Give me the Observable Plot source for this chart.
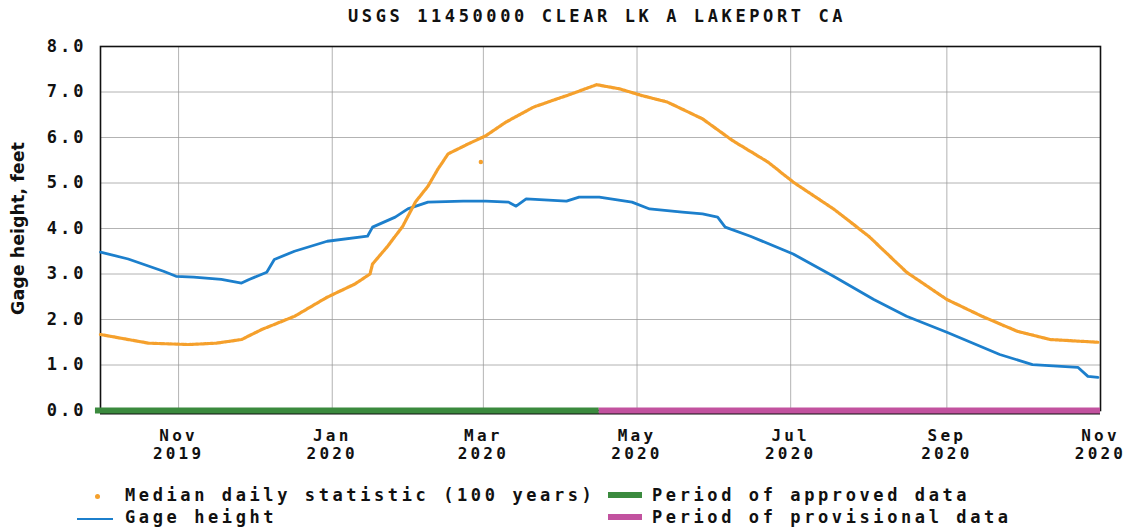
<!DOCTYPE html>
<html>
<head>
<meta charset="utf-8">
<script src="https://cdn.jsdelivr.net/npm/d3@7"></script>
<script src="https://cdn.jsdelivr.net/npm/@observablehq/plot@0.6"></script>
<style>
  html, body { margin: 0; padding: 0; background: #fff; }
  #wrap { position: relative; width: 1125px; height: 527px; overflow: hidden; }
  .mono { font-family: "DejaVu Sans Mono", monospace; font-weight: bold; font-size: 17px; letter-spacing: 3.6px; color: #111; white-space: pre; }
  #title { position: absolute; left: 348px; top: 6px; }
  .leg { position: absolute; }
  #chart svg g[aria-label="x-axis tick label"] text { letter-spacing: 3.2px; }
  #chart svg g[aria-label="y-axis tick label"] text { letter-spacing: 3px; }
</style>
</head>
<body>
<div id="wrap">
  <div id="chart"></div>
  <div id="title" class="mono">USGS 11450000 CLEAR LK A LAKEPORT CA</div>
  <div class="leg" style="left:95px;top:494px;width:5px;height:5px;border-radius:50%;background:#f5a02c;"></div>
  <div class="leg mono" style="left:125px;top:485px;">Median daily statistic (100 years)</div>
  <div class="leg" style="left:77px;top:518px;width:36px;height:2px;background:#1c7fcc;"></div>
  <div class="leg mono" style="left:125px;top:507px;">Gage height</div>
  <div class="leg" style="left:608px;top:492px;width:34px;height:6px;background:#3b8a3e;"></div>
  <div class="leg mono" style="left:652px;top:485px;">Period of approved data</div>
  <div class="leg" style="left:608px;top:514px;width:34px;height:6px;background:#c2529f;"></div>
  <div class="leg mono" style="left:652px;top:507px;">Period of provisional data</div>
</div>
<script>
// Gage height (feet)
const gageDates = ["2019-10-01","2019-10-12","2019-10-26","2019-10-31","2019-11-07","2019-11-18","2019-11-26","2019-11-29","2019-12-06","2019-12-09","2019-12-17","2019-12-30","2020-01-15","2020-01-17","2020-01-26","2020-01-31","2020-02-08","2020-02-22","2020-03-02","2020-03-11","2020-03-14","2020-03-18","2020-04-03","2020-04-08","2020-04-16","2020-04-29","2020-05-06","2020-05-19","2020-05-27","2020-06-02","2020-06-05","2020-06-15","2020-07-02","2020-07-18","2020-08-03","2020-08-16","2020-09-01","2020-09-22","2020-10-05","2020-10-23","2020-10-27","2020-10-31"];
const gageValues = [3.48,3.33,3.06,2.95,2.93,2.88,2.80,2.88,3.04,3.32,3.50,3.72,3.83,4.03,4.25,4.43,4.58,4.60,4.60,4.58,4.49,4.65,4.60,4.69,4.69,4.58,4.43,4.36,4.32,4.25,4.03,3.83,3.44,2.95,2.44,2.07,1.72,1.23,1.01,0.95,0.75,0.73];

// Median daily statistic (100 years)
const medianDates = ["2019-10-01","2019-10-11","2019-10-20","2019-11-05","2019-11-16","2019-11-26","2019-12-04","2019-12-17","2019-12-30","2020-01-10","2020-01-16","2020-01-17","2020-01-23","2020-01-29","2020-02-03","2020-02-08","2020-02-12","2020-02-16","2020-02-24","2020-03-02","2020-03-10","2020-03-21","2020-04-03","2020-04-15","2020-04-24","2020-05-03","2020-05-13","2020-05-27","2020-06-08","2020-06-22","2020-07-02","2020-07-18","2020-08-01","2020-08-16","2020-09-01","2020-09-15","2020-09-29","2020-10-12","2020-10-31"];
const medianValues = [1.67,1.57,1.48,1.45,1.48,1.56,1.78,2.07,2.49,2.78,3.00,3.22,3.61,4.05,4.58,4.93,5.31,5.64,5.86,6.04,6.34,6.67,6.92,7.16,7.07,6.92,6.78,6.41,5.93,5.46,5.02,4.43,3.83,3.04,2.44,2.07,1.74,1.56,1.50];
const medianOutlierDates = ["2020-02-29"];
const medianOutlierValues = [5.46];

// Data-status periods
const periodNames = ["approved", "provisional"];
const periodStarts = ["2019-09-29", "2020-04-16"];
const periodEnds = ["2020-04-16", "2020-11-01"];
const periodColors = ["#3b8a3e", "#c2529f"];

// Axes
const yTicks = [0, 1, 2, 3, 4, 5, 6, 7, 8];
const xTickDates = ["2019-11-01","2020-01-01","2020-03-01","2020-05-01","2020-07-01","2020-09-01","2020-11-01"];
const xTickLabels = ["Nov\n2019","Jan\n2020","Mar\n2020","May\n2020","Jul\n2020","Sep\n2020","Nov\n2020"];

const P = d3.utcParse("%Y-%m-%d");
const gage = gageDates.map((d, i) => ({date: P(d), value: gageValues[i]}));
const median = medianDates.map((d, i) => ({date: P(d), value: medianValues[i]}));
const outliers = medianOutlierDates.map((d, i) => ({date: P(d), value: medianOutlierValues[i]}));
const periods = periodNames.map((n, i) => ({name: n, start: P(periodStarts[i]), end: P(periodEnds[i]), color: periodColors[i]}));
const xTicks = xTickDates.map(P);
const labelFor = new Map(xTicks.map((d, i) => [+d, xTickLabels[i]]));

const chart = Plot.plot({
  width: 1125,
  height: 527,
  marginLeft: 100,
  marginRight: 25,
  marginTop: 46,
  marginBottom: 117,
  style: {fontFamily: "DejaVu Sans Mono, monospace", fontWeight: "bold", fontSize: "17px", color: "#111", background: "#fff"},
  x: {type: "utc", domain: [P("2019-10-01"), P("2020-11-01")]},
  y: {domain: [0, 8]},
  marks: [
    Plot.gridX(xTicks, {stroke: "#999", strokeOpacity: 0.75, strokeWidth: 1}),
    Plot.gridY(yTicks, {stroke: "#999", strokeOpacity: 0.75, strokeWidth: 1}),
    Plot.frame({stroke: "#111", strokeWidth: 1.6}),
    Plot.ruleY([0], {stroke: "#111", strokeWidth: 2, dy: 3}),
    Plot.ruleY(periods, {y: () => 0, x1: "start", x2: "end", stroke: "color", strokeWidth: 6}),
    Plot.line(gage, {x: "date", y: "value", stroke: "#1c7fcc", strokeWidth: 2.8}),
    Plot.line(median, {x: "date", y: "value", stroke: "#f5a02c", strokeWidth: 3.2, strokeDasharray: "2.5,1.2"}),
    Plot.dot(outliers, {x: "date", y: "value", r: 2.2, fill: "#f5a02c"}),
    Plot.axisY(yTicks, {tickSize: 0, tickPadding: 14, tickFormat: d => d.toFixed(1), fontSize: 17, label: null}),
    Plot.axisX(xTicks, {tickSize: 0, tickPadding: 18, tickFormat: d => labelFor.get(+d), fontSize: 16, label: null, lineHeight: 1.12}),
    Plot.text(["Gage height, feet"], {frameAnchor: "left", dx: -82, rotate: -90, textAnchor: "middle", fontFamily: "DejaVu Sans, sans-serif", fontWeight: "bold", fontSize: 17.5, fill: "#111"})
  ]
});
document.getElementById("chart").appendChild(chart);
</script>
</body>
</html>
